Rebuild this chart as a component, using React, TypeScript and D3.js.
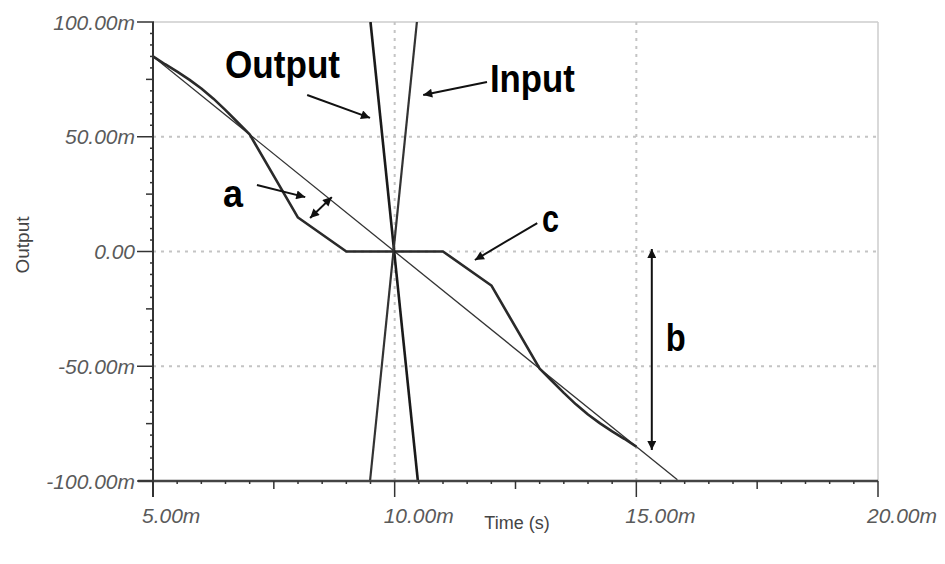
import React from 'react';
import * as d3 from 'd3';

const width = 945;
const height = 564;
const plot = { left: 153, right: 878, top: 22, bottom: 481 };

// time in ms, values in mV
const xTicks = [5, 10, 15, 20];
const xTickLabels = ['5.00m', '10.00m', '15.00m', '20.00m'];
const yTicks = [100, 50, 0, -50, -100];
const yTickLabels = ['100.00m', '50.00m', '0.00', '-50.00m', '-100.00m'];

// ideal (thin) response
const idealT = [5, 15.85];
const idealV = [85, -99.5];

// output with dead zone (thick)
const outT = [5, 5.25, 5.5, 5.75, 6, 6.25, 6.5, 6.75, 7, 8, 9, 10, 11, 12, 13, 13.25, 13.5, 13.75, 14, 14.25, 14.5, 14.75, 15];
const outV = [85, 81.6, 78.4, 74.9, 71, 66.6, 61.6, 56.3, 51, 14.8, 0, 0, 0, -14.8, -51, -56.3, -61.6, -66.6, -71, -74.9, -78.4, -81.6, -85];

// steep traces through the crossing
const steepOutT = [9.5, 10.48];
const steepOutV = [100, -100];
const steepInT = [10.46, 9.49];
const steepInV = [100, -100];

// annotations in data units
const labels = [
  { text: 'Output', t: 6.49, v: 75.6, len: 115 },
  { text: 'Input', t: 11.97, v: 69.5, len: 85 },
  { text: 'a', t: 6.45, v: 19.4, len: 20 },
  { text: 'c', t: 13.05, v: 8.5, len: 17 },
  { text: 'b', t: 15.61, v: -43.4, len: 20 },
];
const arrows = [
  { t1: 8.19, v1: 68.2, t2: 9.49, v2: 58.2, both: false },
  { t1: 11.91, v1: 73.9, t2: 10.59, v2: 68.2, both: false },
  { t1: 7.15, v1: 29, t2: 8.15, v2: 23.7, both: false },
  { t1: 8.25, v1: 14.6, t2: 8.7, v2: 23.7, both: true },
  { t1: 12.95, v1: 12.4, t2: 11.66, v2: -3.7, both: false },
  { t1: 15.32, v1: 1.1, t2: 15.32, v2: -86.5, both: true },
];

const x = d3.scaleLinear().domain([5, 20]).range([plot.left, plot.right]);
const y = d3.scaleLinear().domain([-100, 100]).range([plot.bottom, plot.top]);

const line = d3.line<[number, number]>().x(d => x(d[0])).y(d => y(d[1]));
const pts = (ts: number[], vs: number[]) => ts.map((t, i) => [t, vs[i]] as [number, number]);

const font = '"Liberation Sans", Arial, sans-serif';
const tickColor = '#5a5a5a';

export default function App() {
  const xMinor = d3.range(5, 20.01, 0.5);
  const yMinor = d3.range(-100, 100.01, 5);
  return (
    <svg width={width} height={height} style={{ position: 'absolute', left: 0, top: 0, background: '#fff' }}>
      <defs>
        <clipPath id="plot-clip">
          <rect x={plot.left} y={plot.top} width={plot.right - plot.left} height={plot.bottom - plot.top} />
        </clipPath>
        <marker id="head" viewBox="0 0 10 10" refX="10" refY="5" markerWidth="12" markerHeight="9"
          markerUnits="userSpaceOnUse" orient="auto-start-reverse">
          <path d="M0,0 L10,5 L0,10 z" fill="#111" />
        </marker>
      </defs>

      {/* frame */}
      <line x1={plot.left} x2={plot.right} y1={plot.top} y2={plot.top} stroke="#ccc" strokeWidth={1.5} />
      <line x1={plot.right} x2={plot.right} y1={plot.top} y2={plot.bottom} stroke="#ccc" strokeWidth={1.5} />

      {/* grid */}
      {yTicks.filter(v => v !== 100 && v !== -100).map(v => (
        <line key={'gy' + v} x1={plot.left} x2={plot.right} y1={y(v)} y2={y(v)}
          stroke="#c4c4c4" strokeWidth={2} strokeDasharray="3,5" />
      ))}
      {xTicks.filter(t => t !== 5 && t !== 20).map(t => (
        <line key={'gx' + t} x1={x(t)} x2={x(t)} y1={plot.top} y2={plot.bottom}
          stroke="#c4c4c4" strokeWidth={2} strokeDasharray="3,5" />
      ))}

      {/* traces */}
      <g clipPath="url(#plot-clip)" fill="none" strokeLinejoin="round">
        <path d={line(pts(idealT, idealV)) || ''} stroke="#333" strokeWidth={1.3} />
        <path d={line(pts(outT, outV)) || ''} stroke="#2a2a2a" strokeWidth={2.6} />
        <path d={line(pts(steepOutT, steepOutV)) || ''} stroke="#1a1a1a" strokeWidth={2.6} />
        <path d={line(pts(steepInT, steepInV)) || ''} stroke="#333" strokeWidth={2.2} />
      </g>

      {/* axes */}
      <line x1={plot.left} x2={plot.left} y1={plot.top} y2={plot.bottom + 16} stroke="#333" strokeWidth={2} />
      <line x1={plot.left - 15} x2={plot.right} y1={plot.bottom} y2={plot.bottom} stroke="#444" strokeWidth={2.5} />
      {xMinor.map(t => {
        const major = Math.abs(t % 5) < 1e-6;
        const mid = Math.abs(t % 2.5) < 1e-6;
        const len = major ? 16 : mid ? 8 : 3;
        return <line key={'xt' + t} x1={x(t)} x2={x(t)} y1={plot.bottom} y2={plot.bottom + len}
          stroke="#333" strokeWidth={1.5} />;
      })}
      {yMinor.map(v => {
        const major = Math.abs(v % 50) < 1e-6;
        const mid = Math.abs(v % 25) < 1e-6;
        const len = major ? 16 : mid ? 7 : 3;
        return <line key={'yt' + v} x1={plot.left - len} x2={plot.left + 1} y1={y(v)} y2={y(v)}
          stroke="#333" strokeWidth={1.5} />;
      })}

      {/* tick labels */}
      <g fontFamily={font} fontStyle="italic" fontSize={21} fill={tickColor}>
        {yTicks.map((v, i) => (
          <text key={'yl' + v} x={plot.left - 18} y={y(v) + 7.5} textAnchor="end">{yTickLabels[i]}</text>
        ))}
        {xTicks.map((t, i) => (
          <text key={'xl' + t} x={x(t) - 11} y={523}>{xTickLabels[i]}</text>
        ))}
      </g>

      {/* axis titles */}
      <text x={517} y={529} textAnchor="middle" fontFamily={font} fontSize={18} fill="#444">Time (s)</text>
      <text transform="translate(29,245) rotate(-90)" textAnchor="middle" fontFamily={font} fontSize={19} fill="#444">Output</text>

      {/* annotations */}
      <g fontFamily={font} fontWeight="bold" fontSize={39} fill="#000">
        {labels.map(l => (
          <text key={l.text} x={x(l.t)} y={y(l.v)} textLength={l.len} lengthAdjust="spacingAndGlyphs">{l.text}</text>
        ))}
      </g>
      <g stroke="#111" strokeWidth={2}>
        {arrows.map((a, i) => (
          <line key={'ar' + i} x1={x(a.t1)} y1={y(a.v1)} x2={x(a.t2)} y2={y(a.v2)}
            markerEnd="url(#head)" markerStart={a.both ? 'url(#head)' : undefined} />
        ))}
      </g>
    </svg>
  );
}
